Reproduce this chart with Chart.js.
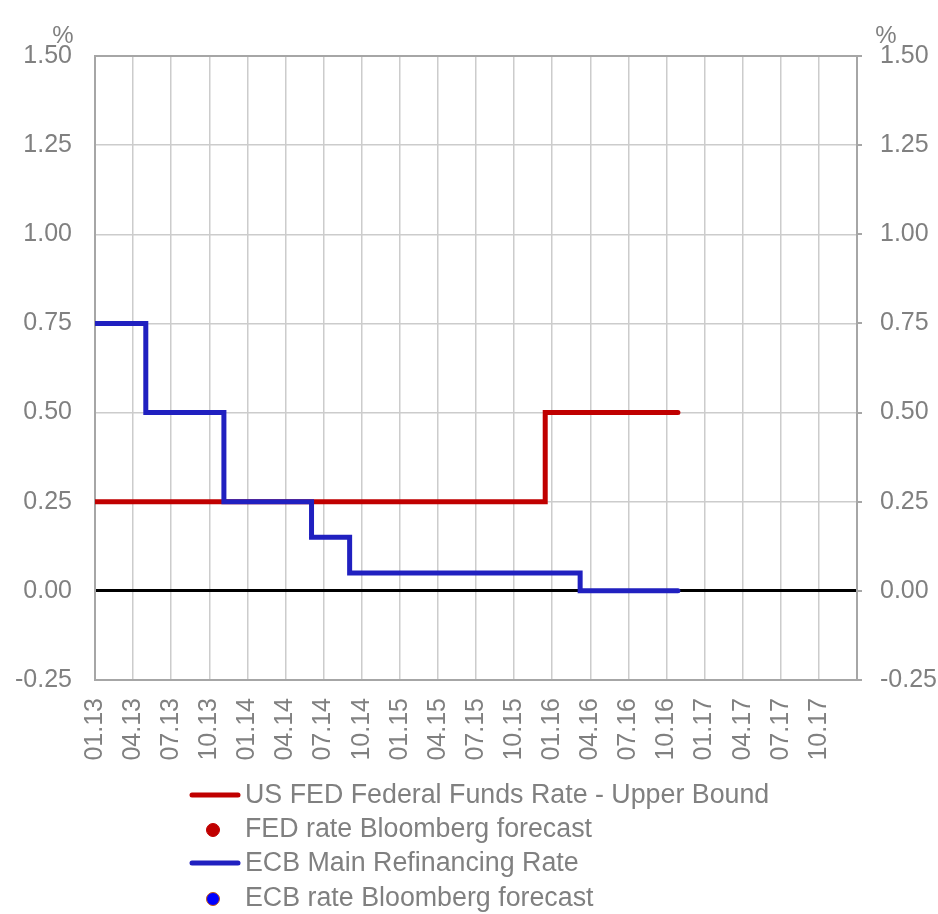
<!DOCTYPE html>
<html>
<head>
<meta charset="utf-8">
<title>Key policy rates</title>
<script src="https://cdn.jsdelivr.net/npm/chart.js@4.4.1/dist/chart.umd.min.js"></script>
<style>
  html, body { margin: 0; padding: 0; background: #ffffff; }
  #wrap { width: 938px; height: 914px; }
</style>
</head>
<body>
<div id="wrap"><canvas id="rates" width="938" height="914"></canvas></div>
<script>
// Quarter labels along the time axis (one tick every three months from Jan 2013)
const quarterLabels = ['01.13','04.13','07.13','10.13','01.14','04.14','07.14','10.14',
  '01.15','04.15','07.15','10.15','01.16','04.16','07.16','10.16','01.17','04.17','07.17','10.17'];

// Rate levels in %, x = months since January 2013, each point is where a level starts
const fedMonths = [0, 35.45, 45.9];
const fedRates  = [0.25, 0.50, 0.50];
const ecbMonths = [0, 4.0, 10.15, 17.05, 20.05, 38.2, 45.9];
const ecbRates  = [0.75, 0.50, 0.25, 0.15, 0.05, 0.00, 0.00];

// Forecast series (no points published in this window)
const fedForecast = [];
const ecbForecast = [];

const seriesNames = [
  'US FED Federal Funds Rate - Upper Bound',
  'FED rate Bloomberg forecast',
  'ECB Main Refinancing Rate',
  'ECB rate Bloomberg forecast'
];

const TEXT = '#808080';
const AXIS = '#a6a6a6';
const GRID = '#cccccc';
const FONT = '"Liberation Sans", Arial, Helvetica, sans-serif';

const toPoints = (xs, ys) => xs.map((x, i) => ({ x, y: ys[i] }));

// Legend drawn as a left-aligned vertical list under the axis
const listLegend = {
  id: 'listLegend',
  afterDraw(chart) {
    const ctx = chart.ctx;
    const x0 = 190, sampleW = 50, textX = 245;
    const rowY = [795, 829, 863, 898];
    ctx.save();
    chart.data.datasets.forEach((ds, i) => {
      const y = rowY[i];
      if (ds.legendKind === 'line') {
        ctx.beginPath();
        ctx.lineWidth = 5;
        ctx.lineCap = 'round';
        ctx.strokeStyle = ds.borderColor;
        ctx.moveTo(x0 + 2, y);
        ctx.lineTo(x0 + sampleW - 2, y);
        ctx.stroke();
      } else {
        ctx.beginPath();
        ctx.arc(x0 + 23, y + 1, 6.5, 0, Math.PI * 2);
        ctx.fillStyle = ds.backgroundColor;
        ctx.fill();
        ctx.lineWidth = 1;
        ctx.strokeStyle = ds.borderColor;
        ctx.stroke();
      }
      ctx.fillStyle = TEXT;
      ctx.font = '26.8px ' + FONT;
      ctx.textAlign = 'left';
      ctx.textBaseline = 'middle';
      ctx.fillText(ds.label, textX, y + 1);
    });
    ctx.restore();
  }
};

// Unit markers above both value axes
const unitMarks = {
  id: 'unitMarks',
  afterDraw(chart) {
    const ctx = chart.ctx;
    ctx.save();
    ctx.fillStyle = TEXT;
    ctx.font = '24px ' + FONT;
    ctx.textAlign = 'center';
    ctx.textBaseline = 'middle';
    ctx.fillText('%', 63, 36);
    ctx.fillText('%', 886, 36);
    ctx.restore();
  }
};

const yTickOpts = {
  stepSize: 0.25,
  color: TEXT,
  font: { size: 25, family: FONT },
  callback: v => v.toFixed(2)
};

new Chart(document.getElementById('rates'), {
  type: 'line',
  data: {
    datasets: [
      {
        label: seriesNames[0],
        legendKind: 'line',
        data: toPoints(fedMonths, fedRates),
        borderColor: '#c00000',
        backgroundColor: '#c00000',
        borderWidth: 5,
        borderCapStyle: 'round',
        stepped: true,
        pointRadius: 0,
        order: 2
      },
      {
        label: seriesNames[1],
        legendKind: 'dot',
        data: fedForecast,
        showLine: false,
        borderColor: '#c00000',
        backgroundColor: '#c00000',
        pointRadius: 6,
        order: 3
      },
      {
        label: seriesNames[2],
        legendKind: 'line',
        data: toPoints(ecbMonths, ecbRates),
        borderColor: '#2020c0',
        backgroundColor: '#2020c0',
        borderWidth: 5,
        borderCapStyle: 'round',
        stepped: true,
        pointRadius: 0,
        order: 0
      },
      {
        label: seriesNames[3],
        legendKind: 'dot',
        data: ecbForecast,
        showLine: false,
        borderColor: '#c55a11',
        backgroundColor: '#0000ff',
        pointRadius: 6,
        order: 1
      }
    ]
  },
  options: {
    responsive: false,
    devicePixelRatio: 1,
    animation: false,
    parsing: false,
    layout: { padding: { top: 56, left: 0, right: 0, bottom: 134 } },
    plugins: {
      legend: { display: false },
      tooltip: { enabled: false },
      title: { display: false }
    },
    scales: {
      x: {
        type: 'linear',
        position: 'bottom',
        min: 0,
        max: 60,
        afterBuildTicks: s => { s.ticks = quarterLabels.map((_, i) => ({ value: i * 3 })).concat([{ value: 60 }]); },
        afterFit: s => { s.height = 100; },
        ticks: {
          autoSkip: false,
          maxRotation: 90,
          minRotation: 90,
          padding: 18,
          color: TEXT,
          font: { size: 25, family: FONT },
          callback: v => quarterLabels[Math.round(v / 3)] ?? ''
        },
        grid: { color: GRID, lineWidth: 1.5, drawTicks: false },
        border: { color: AXIS, width: 2 }
      },
      y: {
        type: 'linear',
        position: 'left',
        min: -0.25,
        max: 1.5,
        afterFit: s => { s.width = 95; },
        ticks: Object.assign({ padding: 23 }, yTickOpts),
        grid: {
          drawTicks: false,
          color: c => c.tick.value === 0 ? '#000000' : (c.tick.value === 1.5 ? AXIS : GRID),
          lineWidth: c => c.tick.value === 0 ? 3 : (c.tick.value === 1.5 ? 2 : 1.5)
        },
        border: { color: AXIS, width: 2 }
      },
      y2: {
        type: 'linear',
        position: 'right',
        min: -0.25,
        max: 1.5,
        afterFit: s => { s.width = 81; },
        ticks: Object.assign({ padding: 18 }, yTickOpts),
        grid: { drawOnChartArea: false, drawTicks: true, tickLength: 5, color: AXIS, lineWidth: 2 },
        border: { color: AXIS, width: 2 }
      }
    }
  },
  plugins: [listLegend, unitMarks]
});
</script>
</body>
</html>
